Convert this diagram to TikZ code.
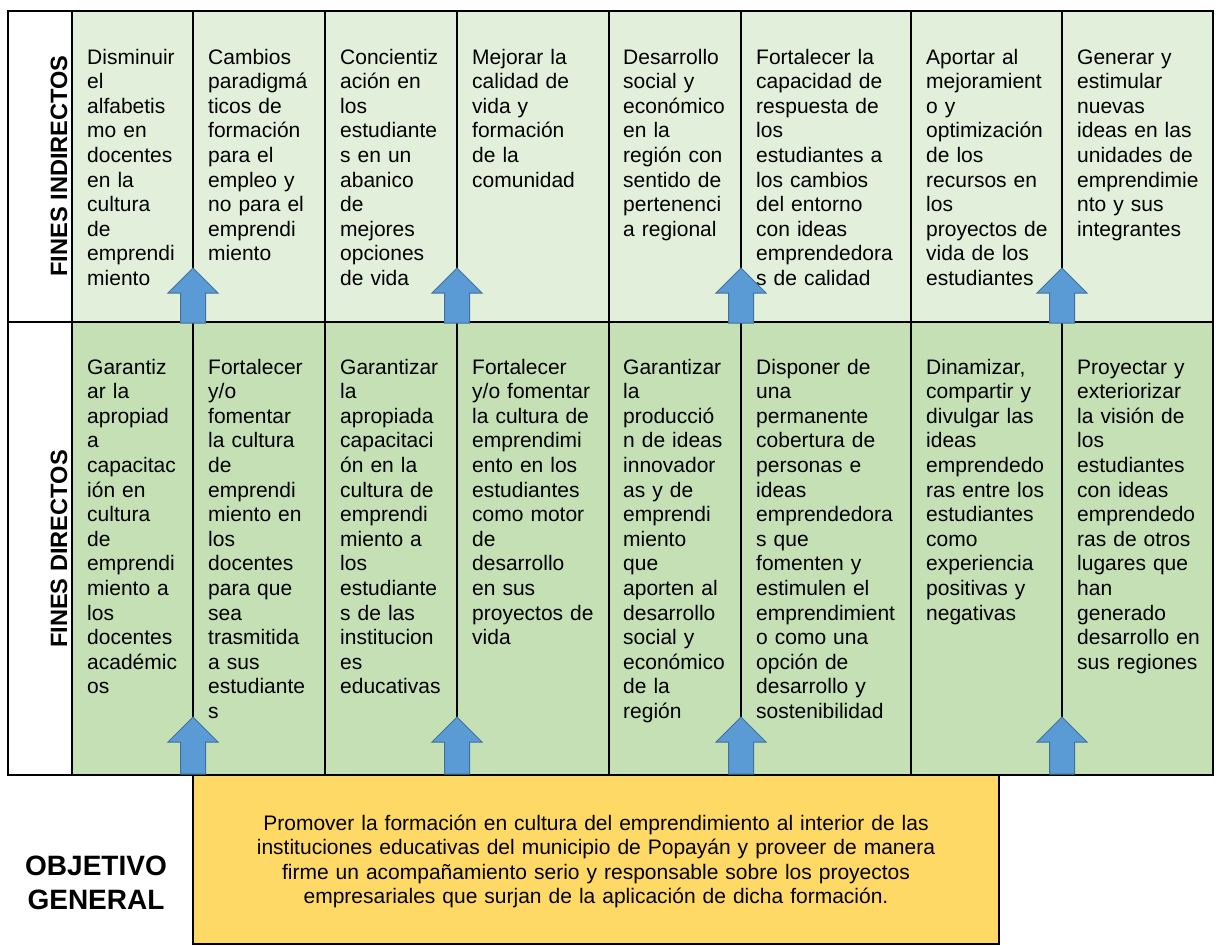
\documentclass[tikz,border=0pt]{standalone}
\usepackage{fontspec}
\setmainfont{Liberation Sans}
\definecolor{verdeclaro}{HTML}{E2EFDA}
\definecolor{verde}{HTML}{C5E0B4}
\definecolor{amarillo}{HTML}{FFD966}
\definecolor{azul}{HTML}{5B9BD5}
\definecolor{azulborde}{HTML}{41719C}
\begin{document}
\begin{tikzpicture}[x=1pt,y=-1pt]
  \tikzstyle{celda}=[anchor=base west, inner sep=0pt, text width=165pt, align=left, font=\fontsize{21}{24.6}\selectfont]
  \tikzstyle{etiqueta}=[rotate=90, inner sep=0pt, font=\fontsize{23.6}{28}\selectfont\bfseries]
  \tikzstyle{flecha}=[fill=azul, draw=azulborde, line width=1pt]
  \tikzstyle{linea}=[line width=1.5pt]
  \useasboundingbox (0,0) rectangle (1217,946);
  % fondos
  \fill[verdeclaro] (72,11) rectangle (1213,322);
  \fill[verde] (72,322) rectangle (1213,775);
  \draw[linea, fill=amarillo] (193,775) rectangle (999,944);
  % fines indirectos
  \node[etiqueta] (fi) at (59,166) {FINES INDIRECTOS};
  \node[celda] (i1) at (87,64) {Disminuir\\el\\alfabetis\\mo en\\docentes\\en la\\cultura\\de\\emprendi\\miento};
  \node[celda] (i2) at (208,64) {Cambios\\paradigmá\\ticos de\\formación\\para el\\empleo y\\no para el\\emprendi\\miento};
  \node[celda] (i3) at (340,64) {Concientiz\\ación en\\los\\estudiante\\s en un\\abanico\\de\\mejores\\opciones\\de vida};
  \node[celda] (i4) at (472,64) {Mejorar la\\calidad de\\vida y\\formación\\de la\\comunidad};
  \node[celda] (i5) at (623,64) {Desarrollo\\social y\\económico\\en la\\región con\\sentido de\\pertenenci\\a regional};
  \node[celda] (i6) at (756,64) {Fortalecer la\\capacidad de\\respuesta de\\los\\estudiantes a\\los cambios\\del entorno\\con ideas\\emprendedora\\s de calidad};
  \node[celda] (i7) at (926,64) {Aportar al\\mejoramient\\o y\\optimización\\de los\\recursos en\\los\\proyectos de\\vida de los\\estudiantes};
  \node[celda] (i8) at (1077,64) {Generar y\\estimular\\nuevas\\ideas en las\\unidades de\\emprendimie\\nto y sus\\integrantes};
  % fines directos
  \node[etiqueta] (fd) at (59,549) {FINES DIRECTOS};
  \node[celda] (d1) at (87,374) {Garantiz\\ar la\\apropiad\\a\\capacitac\\ión en\\cultura\\de\\emprendi\\miento a\\los\\docentes\\académic\\os};
  \node[celda] (d2) at (208,374) {Fortalecer\\y/o\\fomentar\\la cultura\\de\\emprendi\\miento en\\los\\docentes\\para que\\sea\\trasmitida\\a sus\\estudiante\\s};
  \node[celda] (d3) at (340,374) {Garantizar\\la\\apropiada\\capacitaci\\ón en la\\cultura de\\emprendi\\miento a\\los\\estudiante\\s de las\\institucion\\es\\educativas};
  \node[celda] (d4) at (472,374) {Fortalecer\\y/o fomentar\\la cultura de\\emprendimi\\ento en los\\estudiantes\\como motor\\de\\desarrollo\\en sus\\proyectos de\\vida};
  \node[celda] (d5) at (623,374) {Garantizar\\la\\producció\\n de ideas\\innovador\\as y de\\emprendi\\miento\\que\\aporten al\\desarrollo\\social y\\económico\\de la\\región};
  \node[celda] (d6) at (756,374) {Disponer de\\una\\permanente\\cobertura de\\personas e\\ideas\\emprendedora\\s que\\fomenten y\\estimulen el\\emprendimient\\o como una\\opción de\\desarrollo y\\sostenibilidad};
  \node[celda] (d7) at (926,374) {Dinamizar,\\compartir y\\divulgar las\\ideas\\emprendedo\\ras entre los\\estudiantes\\como\\experiencia\\positivas y\\negativas};
  \node[celda] (d8) at (1077,374) {Proyectar y\\exteriorizar\\la visión de\\los\\estudiantes\\con ideas\\emprendedo\\ras de otros\\lugares que\\han\\generado\\desarrollo en\\sus regiones};
  % objetivo general
  \node[align=center, inner sep=0pt, font=\fontsize{28}{34}\selectfont\bfseries] (obj) at (96,883) {OBJETIVO\\GENERAL};
  \node[anchor=base, inner sep=0pt, text width=790pt, align=center, font=\fontsize{21}{24.6}\selectfont] (og) at (596,830)
    {Promover la formación en cultura del emprendimiento al interior de las\\instituciones educativas del municipio de Popayán y proveer de manera\\firme un acompañamiento serio y responsable sobre los proyectos\\empresariales que surjan de la aplicación de dicha formación.};
  % rejilla
  \draw[linea] (8,11) rectangle (1213,775);
  \draw[linea] (8,322) -- (1213,322);
  \foreach \x in {72,193,325,457,609,741,911,1062}
    \draw[linea] (\x,11) -- (\x,775);
  % flechas
  \foreach \x in {193,457,741,1062}
    \foreach \t/\b in {268/323,717/774}
      \draw[flecha] (\x,\t) -- (\x+25,\t+25) -- (\x+12.5,\t+25) -- (\x+12.5,\b)
        -- (\x-12.5,\b) -- (\x-12.5,\t+25) -- (\x-25,\t+25) -- cycle;
\end{tikzpicture}
\end{document}
